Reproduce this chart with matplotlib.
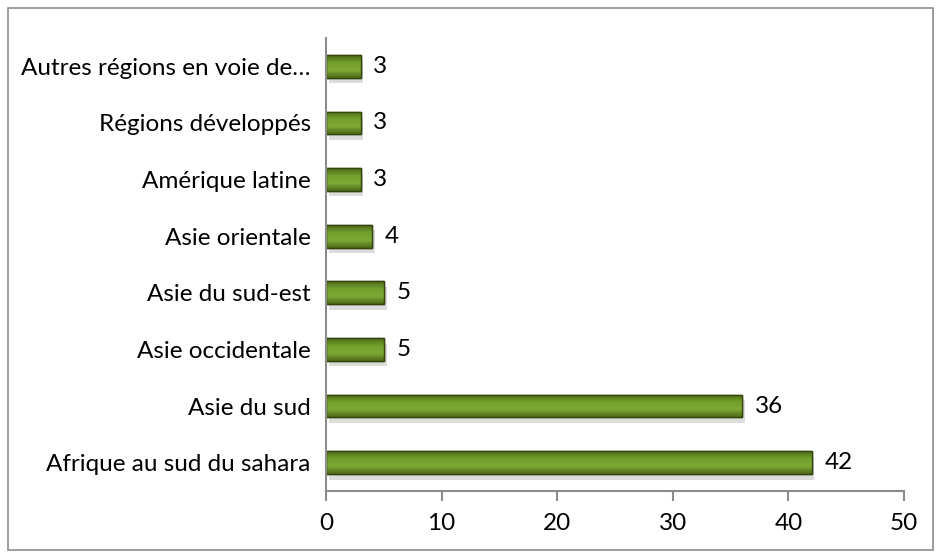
import numpy as np
import matplotlib.pyplot as plt
from matplotlib.patches import Rectangle
from matplotlib.colors import LinearSegmentedColormap
import matplotlib.patheffects as pe

regions = ["Afrique au sud du sahara", "Asie du sud", "Asie occidentale",
           "Asie du sud-est", "Asie orientale", "Amérique latine",
           "Régions développés", "Autres régions en voie de…"]
values = [42, 36, 5, 5, 4, 3, 3, 3]
xticks = [0, 10, 20, 30, 40, 50]

W, H = 936, 553
fig = plt.figure(figsize=(W / 100, H / 100), dpi=100)
plt.rcParams['font.family'] = ['Lato', 'DejaVu Sans']
fs = 17.5

# outer chart border
fig.patches.append(Rectangle((8 / W, 1 - 550 / H), 925 / W, 542 / H,
                             transform=fig.transFigure, fill=False,
                             edgecolor='#8c8c8c', linewidth=1.2))

ax = fig.add_axes([326 / W, 1 - 491 / H, (904 - 326) / W, (491 - 38) / H])
bars = ax.barh(range(len(values)), values, height=0.4, color='#6e9627',
               edgecolor='#34450f', linewidth=1.0)

# green gradient inside each bar, darker at top/bottom
grad_cmap = LinearSegmentedColormap.from_list('g', ['#4d6a16', '#7ea836', '#73a02c', '#4d6a16'])
grad = np.linspace(0, 1, 64).reshape(-1, 1)
for b in bars:
    b.set_path_effects([pe.SimplePatchShadow(offset=(2, -4), shadow_rgbFace='#a8a8a8', alpha=0.4),
                        pe.Normal()])
    x0, y0, w, h = b.get_x(), b.get_y(), b.get_width(), b.get_height()
    im = ax.imshow(grad, cmap=grad_cmap, aspect='auto', extent=(x0, x0 + w, y0, y0 + h),
                   origin='lower', zorder=b.get_zorder() + 0.1)
    im.set_clip_path(b)
    ax.add_patch(Rectangle((x0, y0), w, h, fill=False, edgecolor='#34450f',
                           linewidth=1.0, zorder=b.get_zorder() + 0.2))

for i, v in enumerate(values):
    ax.text(v + 1.1, i, str(v), va='center', ha='left', fontsize=fs)

ax.set_xlim(0, 50)
ax.set_ylim(-0.5, len(values) - 0.5)
ax.set_xticks(xticks)
ax.set_yticks(range(len(values)))
ax.set_yticklabels(regions)
ax.tick_params(axis='x', length=7, width=1.5, color='#8c8c8c', labelsize=fs, pad=9)
ax.tick_params(axis='y', length=0, labelsize=fs, pad=11)
for s in ['top', 'right']:
    ax.spines[s].set_visible(False)
for s in ['left', 'bottom']:
    ax.spines[s].set_color('#8c8c8c')
    ax.spines[s].set_linewidth(1.5)

fig.savefig('out.png', dpi=100)
